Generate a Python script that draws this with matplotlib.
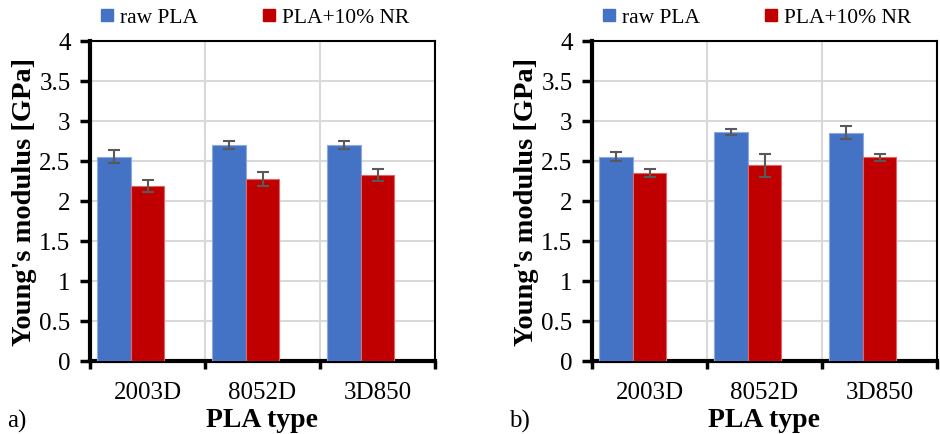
import matplotlib
matplotlib.use('Agg')
import matplotlib.pyplot as plt
from matplotlib.lines import Line2D
import numpy as np

plt.rcParams['font.family'] = ['Liberation Serif', 'DejaVu Serif']

# data
pla_types = ['2003D', '8052D', '3D850']
series_names = ['raw PLA', 'PLA+10% NR']

raw_a = [2.55, 2.70, 2.69]
raw_a_err = [0.08, 0.05, 0.05]
nr_a = [2.185, 2.27, 2.32]
nr_a_err = [0.075, 0.09, 0.07]

raw_b = [2.55, 2.86, 2.85]
raw_b_err = [0.06, 0.04, 0.08]
nr_b = [2.35, 2.44, 2.54]
nr_b_err = [0.05, 0.14, 0.04]

blue = '#4472C4'
red = '#C00000'
err_col = '#595959'

fig = plt.figure(figsize=(9.4, 4.35), dpi=100)
ax_a = fig.add_axes([90 / 940, 73.5 / 435, 345 / 940, 320 / 435])
ax_b = fig.add_axes([592 / 940, 73.5 / 435, 345 / 940, 320 / 435])


def draw_panel(ax, raw, raw_err, nr, nr_err, tag):
    x = np.arange(len(pla_types))
    w = 0.29
    ax.bar(x - w, raw, w, color=blue, edgecolor='#8EA9DB', linewidth=0.8, zorder=3)
    ax.bar(x, nr, w, color=red, edgecolor='#E06666', linewidth=0.8, zorder=3)
    ax.errorbar(x - w, raw, yerr=raw_err, fmt='none', ecolor=err_col,
                elinewidth=1.5, capsize=4.5, capthick=1.5, zorder=4)
    ax.errorbar(x, nr, yerr=nr_err, fmt='none', ecolor=err_col,
                elinewidth=1.5, capsize=4.5, capthick=1.5, zorder=4)

    ax.set_xlim(-0.5, len(pla_types) - 0.5)
    ax.set_ylim(0, 4)
    ax.set_yticks(np.arange(0, 4.01, 0.5))
    ax.set_yticklabels(['0', '0.5', '1', '1.5', '2', '2.5', '3', '3.5', '4'])

    # ticks on category boundaries, labels at centres
    ax.set_xticks(np.arange(-0.5, len(pla_types), 1.0))
    ax.set_xticklabels([])
    ax.set_xticks(x, minor=True)
    ax.set_xticklabels(pla_types, minor=True)
    ax.tick_params(axis='x', which='minor', length=0, pad=15, labelsize=18)
    ax.tick_params(axis='x', which='major', direction='out', length=6, width=2.5)
    ax.tick_params(axis='y', direction='out', length=7, width=2.5, pad=7, labelsize=18)

    ax.grid(True, which='major', color='#D9D9D9', linewidth=1.5, zorder=0)
    ax.set_axisbelow(True)

    for side in ['left', 'bottom']:
        ax.spines[side].set_linewidth(3)
    for side in ['top', 'right']:
        ax.spines[side].set_linewidth(1.5)

    ax.set_xlabel('PLA type', fontsize=20, fontweight='bold', labelpad=3)
    ax.set_ylabel("Young's modulus [GPa]", fontsize=20.5, fontweight='bold', labelpad=2)

    handles = [Line2D([], [], marker='s', linestyle='none', color=blue, markersize=8),
               Line2D([], [], marker='s', linestyle='none', color=red, markersize=8)]
    ax.legend(handles, series_names, loc='center', bbox_to_anchor=(0.477, 1.072),
              ncol=2, frameon=False, fontsize=15.5, handlelength=0.6,
              handletextpad=0.3, columnspacing=3.0, borderaxespad=0)

    ax.text(-0.24, -0.186, tag, transform=ax.transAxes, fontsize=18,
            ha='left', va='center')


draw_panel(ax_a, raw_a, raw_a_err, nr_a, nr_a_err, 'a)')
draw_panel(ax_b, raw_b, raw_b_err, nr_b, nr_b_err, 'b)')

fig.savefig('out.png', dpi=100)
